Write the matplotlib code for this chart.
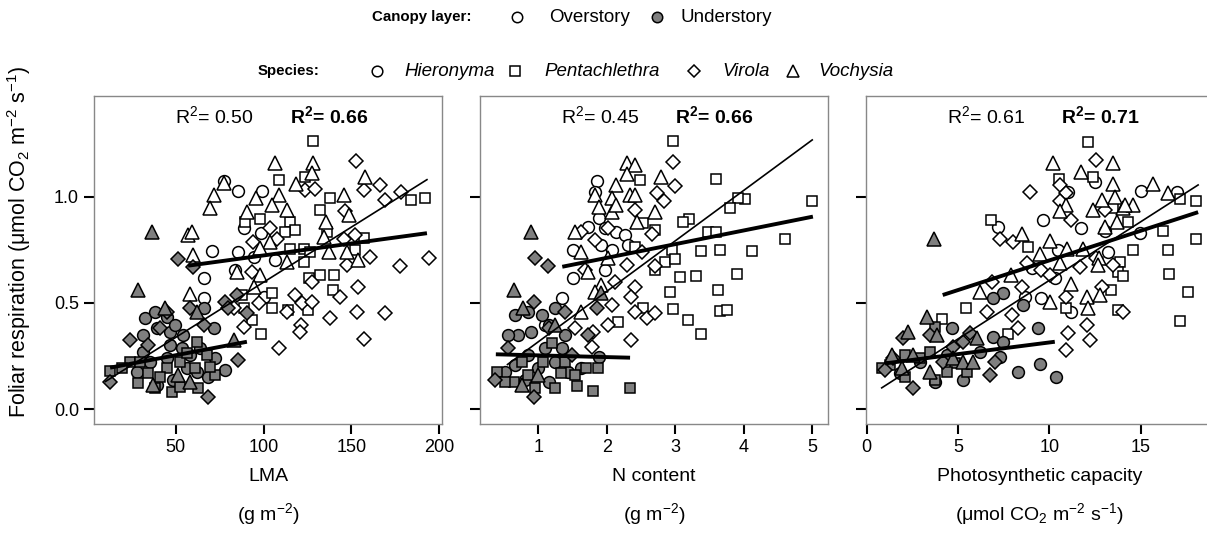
import matplotlib; matplotlib.use("Agg")
import matplotlib.pyplot as plt
from matplotlib.lines import Line2D

plt.rcParams['font.family'] = ['Liberation Sans', 'DejaVu Sans']
plt.rcParams['mathtext.fontset'] = 'custom'
plt.rcParams['mathtext.rm'] = 'Liberation Sans'
plt.rcParams['mathtext.it'] = 'Liberation Sans:italic'
plt.rcParams['mathtext.bf'] = 'Liberation Sans:bold'

# ---- data: (x, respiration) pairs ----
# LMA panel
lma_pent_over = [(128, 1.264), (108.5, 1.079), (123.7, 1.094), (192, 0.995), (184, 0.984), (138, 0.992),
                 (132, 0.937), (98, 0.895), (89.5, 0.882), (115, 0.882), (118, 0.843), (112, 0.835),
                 (136, 0.835), (157, 0.804), (152, 0.749), (115, 0.754), (122.8, 0.754), (126.5, 0.741),
                 (122.8, 0.694), (125.6, 0.619), (132, 0.631), (139.9, 0.631), (139.5, 0.561), (105, 0.545),
                 (104.7, 0.477), (88.6, 0.474), (125, 0.466), (114, 0.466), (93.3, 0.419), (98.6, 0.352),
                 (87.6, 0.537)]
lma_voch_over = [(106.6, 1.157), (128, 1.157), (127.5, 1.11), (118.6, 1.058), (77.2, 1.063), (71.8, 1.008),
                 (69.5, 0.948), (95.6, 0.992), (109, 1.008), (104.7, 0.961), (113.6, 0.937), (90.8, 0.926),
                 (145.6, 1.008), (157.9, 1.094), (135.5, 0.882), (134.2, 0.812), (148.4, 0.914), (57.2, 0.82),
                 (59.1, 0.832), (60, 0.725), (58.2, 0.54), (84.8, 0.647), (97.7, 0.631), (94.3, 0.576),
                 (113.2, 0.694), (137, 0.741), (147.5, 0.741), (154, 0.702), (103.8, 0.788), (98, 0.757)]
lma_hier_over = [(77.2, 1.074), (85.3, 1.027), (99, 1.027), (88.6, 0.851), (98.4, 0.83), (70.5, 0.744),
                 (85.7, 0.741), (94.3, 0.717), (83.8, 0.655), (66.3, 0.616), (65.8, 0.521), (100, 0.529),
                 (106.6, 0.702)]
lma_viro_over = [(152.6, 1.168), (166.5, 1.055), (157, 1.031), (123.7, 1.031), (129.4, 1.036), (169.3, 0.984),
                 (178.2, 1.02), (146.5, 0.933), (103.8, 0.854), (93.7, 0.788), (107.6, 0.8), (152.2, 0.82),
                 (145.6, 0.8), (160.8, 0.717), (177.9, 0.675), (194, 0.71), (147.5, 0.678), (127.5, 0.6),
                 (154, 0.576), (118, 0.537), (143.7, 0.529), (97.1, 0.498), (82.9, 0.474), (113.2, 0.458),
                 (121.8, 0.498), (127.5, 0.502), (153.2, 0.455), (169.3, 0.45), (138, 0.43), (121.2, 0.396),
                 (120.5, 0.361), (156.9, 0.33), (108.5, 0.286), (88.6, 0.388), (93.3, 0.647)]
lma_voch_under = [(36.3, 0.835), (28.7, 0.561), (43.9, 0.474), (58.2, 0.126), (51.5, 0.16), (82.9, 0.325),
                  (62, 0.458), (37.2, 0.113)]
lma_viro_under = [(51.5, 0.707), (60, 0.67), (58.2, 0.474), (78.1, 0.506), (90.5, 0.45), (85.7, 0.231),
                  (24, 0.325), (12.6, 0.129), (68.6, 0.058), (80, 0.474), (84.8, 0.537), (65.8, 0.396),
                  (44.9, 0.458), (41, 0.38), (34.4, 0.302)]
lma_hier_under = [(32.5, 0.427), (38.2, 0.458), (44.9, 0.435), (31.6, 0.349), (39.1, 0.38), (46.8, 0.364),
                  (49.6, 0.396), (54.4, 0.349), (65.8, 0.474), (71.5, 0.38), (72.4, 0.239), (78.1, 0.184),
                  (58.2, 0.254), (44.9, 0.239), (35.4, 0.223), (27.8, 0.176), (39.1, 0.113), (48.7, 0.137),
                  (62, 0.176), (68.6, 0.152), (56.3, 0.192), (46.8, 0.302), (31.6, 0.27), (63.9, 0.286),
                  (53.4, 0.286)]
lma_pent_under = [(62, 0.314), (12.6, 0.179), (24, 0.223), (28.7, 0.121), (34.4, 0.168), (44.9, 0.192),
                  (52.5, 0.223), (56.3, 0.262), (67.6, 0.254), (72.4, 0.16), (62.9, 0.097), (47.7, 0.079),
                  (38.2, 0.097), (41, 0.152), (52.5, 0.105), (61, 0.192), (69.5, 0.199), (29.7, 0.223),
                  (19.2, 0.192)]

# N content panel
n_pent_over = [(2.97, 1.264), (3.6, 1.083), (5.0, 0.98), (4.02, 0.989), (3.92, 0.992), (3.8, 0.945),
               (3.2, 0.895), (3.12, 0.882), (3.48, 0.835), (3.6, 0.835), (4.6, 0.8), (2.7, 0.843),
               (2.53, 0.875), (2.41, 0.765), (2.95, 0.749), (3.38, 0.744), (3.65, 0.749), (4.12, 0.744),
               (2.85, 0.694), (3.0, 0.707), (2.7, 0.655), (3.07, 0.623), (3.31, 0.628), (3.9, 0.634),
               (2.92, 0.55), (3.63, 0.56), (2.53, 0.477), (2.96, 0.471), (3.65, 0.462), (3.75, 0.466),
               (3.19, 0.419), (3.38, 0.352), (2.17, 0.411), (2.48, 1.079)]
n_voch_over = [(2.29, 1.157), (2.41, 1.149), (2.29, 1.105), (2.79, 1.094), (2.14, 1.055), (1.83, 1.008),
               (2.07, 0.992), (2.34, 1.008), (1.88, 0.953), (2.07, 0.929), (2.7, 0.926), (2.44, 0.882),
               (2.41, 1.008), (1.54, 0.835), (2.02, 0.71), (1.63, 0.741), (1.73, 0.644), (1.92, 0.584),
               (1.63, 0.458), (1.83, 0.553), (2.14, 0.961)]
n_hier_over = [(1.85, 1.074), (1.83, 1.024), (1.88, 0.901), (1.73, 0.859), (1.97, 0.851), (2.14, 0.835),
               (2.27, 0.82), (1.51, 0.749), (1.92, 0.772), (2.07, 0.749), (1.51, 0.619), (1.97, 0.655),
               (1.34, 0.521), (1.1, 0.396), (2.31, 0.772)]
n_viro_over = [(2.97, 1.165), (3.0, 1.052), (2.73, 1.016), (2.84, 0.98), (2.41, 0.937), (2.02, 0.851),
               (1.63, 0.835), (1.83, 0.796), (2.66, 0.823), (2.51, 0.741), (2.29, 0.678), (2.7, 0.675),
               (2.41, 0.576), (2.36, 0.529), (1.68, 0.655), (2.12, 0.6), (2.41, 0.455), (2.58, 0.43),
               (2.7, 0.45), (1.8, 0.361), (1.78, 0.294), (2.36, 0.325), (2.02, 0.396), (2.07, 0.49),
               (1.54, 0.38)]
n_voch_under = [(0.89, 0.835), (0.64, 0.561), (0.78, 0.474), (1.92, 0.545), (1.24, 0.396), (1.0, 0.16),
                (0.76, 0.113)]
n_viro_under = [(0.95, 0.71), (1.14, 0.675), (0.93, 0.506), (1.85, 0.474), (0.37, 0.137), (0.93, 0.058),
                (1.39, 0.458), (1.15, 0.38), (0.56, 0.286), (1.49, 0.254), (1.73, 0.349)]
n_hier_under = [(0.66, 0.443), (0.85, 0.458), (1.05, 0.443), (0.71, 0.349), (0.9, 0.364), (1.15, 0.396),
                (1.24, 0.474), (1.39, 0.349), (1.1, 0.286), (0.85, 0.254), (0.66, 0.207), (1.24, 0.223),
                (1.44, 0.176), (1.63, 0.192), (1.88, 0.246), (1.0, 0.192), (0.51, 0.176), (0.81, 0.137),
                (1.15, 0.129), (1.34, 0.286), (0.56, 0.349)]
n_pent_under = [(0.39, 0.176), (0.64, 0.129), (1.07, 0.223), (1.2, 0.309), (1.33, 0.168), (1.56, 0.11),
                (1.69, 0.195), (1.8, 0.085), (2.34, 0.097), (1.87, 0.195), (1.54, 0.16), (0.85, 0.16),
                (0.51, 0.129), (0.95, 0.097), (1.39, 0.223), (1.24, 0.097), (0.76, 0.223)]

# photosynthetic capacity panel
a_pent_over = [(12.13, 1.259), (10.54, 1.083), (12.4, 1.094), (17.18, 0.989), (18.02, 0.98), (6.78, 0.89),
               (8.84, 0.765), (14.32, 0.882), (14.59, 0.749), (16.23, 0.838), (16.5, 0.749), (18.02, 0.801),
               (16.56, 0.634), (17.6, 0.55), (17.14, 0.415), (13.4, 0.56), (13.86, 0.694), (13.77, 0.647),
               (14.04, 0.628), (13.77, 0.466), (10.94, 0.474), (5.41, 0.474), (7.75, 0.352), (13.5, 0.945),
               (4.1, 0.424)]
a_voch_over = [(10.21, 1.157), (13.5, 1.157), (11.76, 1.115), (13.5, 1.058), (15.68, 1.058), (16.5, 1.016),
               (10.94, 0.961), (10.58, 0.933), (12.86, 0.984), (12.4, 0.937), (13.59, 1.0), (14.04, 0.945),
               (14.59, 0.961), (13.68, 0.882), (8.48, 0.823), (10.03, 0.791), (10.98, 0.754), (11.85, 0.754),
               (9.48, 0.729), (10.58, 0.686), (13.04, 0.859), (12.73, 0.71), (12.67, 0.678), (7.88, 0.631),
               (6.2, 0.553), (10.03, 0.502), (11.21, 0.587), (12.04, 0.529), (12.77, 0.537), (12.13, 0.474),
               (14.13, 0.961)]
a_hier_over = [(9.63, 0.89), (7.2, 0.859), (11.76, 0.851), (12.49, 1.071), (11.03, 1.024), (15.04, 1.027),
               (16.99, 1.024), (13.04, 0.838), (14.96, 0.827), (13.22, 0.741), (10.49, 0.749), (10.3, 0.616),
               (8.66, 0.529), (9.57, 0.524), (11.21, 0.458), (9.03, 0.663)]
a_viro_over = [(12.58, 1.173), (8.93, 1.024), (10.61, 1.055), (10.94, 1.016), (10.58, 0.98), (13.04, 0.937),
               (11.21, 0.89), (7.29, 0.801), (8.02, 0.788), (8.75, 0.686), (9.57, 0.655), (10.03, 0.631),
               (11.67, 0.67), (12.58, 0.71), (13.5, 0.678), (12.91, 0.576), (8.48, 0.576), (10.94, 0.529),
               (6.56, 0.458), (7.93, 0.443), (8.3, 0.38), (14.04, 0.458), (12.04, 0.396), (11.03, 0.356),
               (12.22, 0.325), (10.94, 0.278), (6.84, 0.6)]
a_voch_under = [(3.68, 0.801), (3.28, 0.435), (2.28, 0.364), (1.37, 0.254), (3.83, 0.349), (4.74, 0.239),
                (5.29, 0.223), (6.02, 0.333), (5.83, 0.223), (2.55, 0.254), (1.91, 0.192), (3.46, 0.176)]
a_hier_under = [(7.48, 0.545), (6.93, 0.524), (8.57, 0.49), (4.65, 0.38), (6.93, 0.341), (7.48, 0.317),
                (9.39, 0.38), (7.29, 0.246), (8.3, 0.176), (9.48, 0.21), (10.39, 0.152), (5.29, 0.137),
                (3.74, 0.129), (1.82, 0.168), (4.38, 0.254), (6.2, 0.27), (2.92, 0.223)]
a_viro_under = [(2.0, 0.333), (3.46, 0.349), (4.74, 0.294), (5.65, 0.356), (6.75, 0.16), (2.55, 0.097),
                (1.46, 0.239), (4.19, 0.223), (5.29, 0.317), (7.02, 0.223), (1.0, 0.184)]
a_pent_under = [(0.82, 0.192), (2.09, 0.152), (3.74, 0.388), (3.74, 0.137), (4.83, 0.215), (2.92, 0.239),
                (2.09, 0.254), (1.27, 0.207), (5.47, 0.176), (4.38, 0.176), (3.46, 0.27)]

# regression lines: (x0, x1), (y0, y1)
lma_fit_all = [(10, 193), (0.13, 1.08)]
lma_fit_over = [(57, 193), (0.675, 0.828)]
lma_fit_under = [(12.6, 90.5), (0.195, 0.317)]
n_fit_all = [(0.55, 5.0), (0.21, 1.267)]
n_fit_over = [(1.35, 5.01), (0.67, 0.906)]
n_fit_under = [(0.38, 2.34), (0.258, 0.242)]
a_fit_all = [(0.82, 18.15), (0.10, 1.055)]
a_fit_over = [(4.16, 18.15), (0.537, 0.927)]
a_fit_under = [(1.0, 10.3), (0.215, 0.317)]

r2_over = ["0.50", "0.45", "0.61"]
r2_all = ["0.66", "0.66", "0.71"]

SPECIES = ["Hieronyma", "Pentachlethra", "Virola", "Vochysia"]
MARK = {"Hieronyma": ("o", 8.5), "Pentachlethra": ("s", 7.8), "Virola": ("D", 6.8), "Vochysia": ("^", 9.5)}
GRAY = "#7f7f7f"


def scatter(ax, pts, sp, filled):
    m, ms = MARK[sp]
    ax.plot([p[0] for p in pts], [p[1] for p in pts], ls="none", marker=m, ms=ms,
            mfc=GRAY if filled else "white", mec="black", mew=1.1)


def main():
    fig = plt.figure(figsize=(12.07, 5.36), dpi=100)
    panels = [
        dict(pos=0.0781, xlim=(3.6, 201.5), ticks=[50, 100, 150, 200], label="LMA", unit="(g m$^{-2}$)",
             over=[lma_hier_over, lma_pent_over, lma_viro_over, lma_voch_over],
             under=[lma_hier_under, lma_pent_under, lma_viro_under, lma_voch_under],
             fits=(lma_fit_all, lma_fit_over, lma_fit_under)),
        dict(pos=0.3977, xlim=(0.149, 5.225), ticks=[1, 2, 3, 4, 5], label="N content", unit="(g m$^{-2}$)",
             over=[n_hier_over, n_pent_over, n_viro_over, n_voch_over],
             under=[n_hier_under, n_pent_under, n_viro_under, n_voch_under],
             fits=(n_fit_all, n_fit_over, n_fit_under)),
        dict(pos=0.7175, xlim=(-0.04, 19.0), ticks=[0, 5, 10, 15], label="Photosynthetic capacity",
             unit="(μmol CO$_2$ m$^{-2}$ s$^{-1}$)",
             over=[a_hier_over, a_pent_over, a_viro_over, a_voch_over],
             under=[a_hier_under, a_pent_under, a_viro_under, a_voch_under],
             fits=(a_fit_all, a_fit_over, a_fit_under)),
    ]
    for i, p in enumerate(panels):
        ax = fig.add_axes([p["pos"], 0.209, 0.288, 0.612])
        for sp, pts in zip(SPECIES, p["over"]):
            scatter(ax, pts, sp, False)
        for sp, pts in zip(SPECIES, p["under"]):
            scatter(ax, pts, sp, True)
        fa, fo, fu = p["fits"]
        ax.plot(fa[0], fa[1], color="black", lw=1.2)
        ax.plot(fo[0], fo[1], color="black", lw=2.8, solid_capstyle="butt")
        ax.plot(fu[0], fu[1], color="black", lw=2.8, solid_capstyle="butt")
        ax.set_xlim(*p["xlim"]); ax.set_ylim(-0.07, 1.474)
        ax.set_xticks(p["ticks"]); ax.set_yticks([0.0, 0.5, 1.0])
        if i == 0:
            ax.set_yticklabels(["0.0", "0.5", "1.0"])
            ax.set_ylabel("Foliar respiration (μmol CO$_2$ m$^{-2}$ s$^{-1}$)", fontsize=15.5)
            ax.yaxis.set_label_coords(-0.176, 0.555)
        else:
            ax.set_yticklabels([])
        ax.tick_params(direction="out", length=7, width=1.5, labelsize=13, color="black", pad=4)
        for s in ax.spines.values():
            s.set_color("#888888"); s.set_linewidth(1.0)
        ax.text(0.5, -0.16, p["label"], transform=ax.transAxes, ha="center", va="center", fontsize=14)
        ax.text(0.5, -0.275, p["unit"], transform=ax.transAxes, ha="center", va="center", fontsize=14)
        ax.text(0.345, 0.937, r"$\mathrm{R^2}$= " + r2_over[i], transform=ax.transAxes,
                ha="center", va="center", fontsize=14)
        ax.text(0.675, 0.937, r"$\mathbf{R^2}$= " + r2_all[i], transform=ax.transAxes,
                ha="center", va="center", fontsize=14, fontweight="bold")

    W, H = 1207.0, 536.0

    def mk(x, y, m, ms, fc):
        fig.add_artist(Line2D([x / W], [1 - y / H], transform=fig.transFigure, ls="none", marker=m,
                              ms=ms, mfc=fc, mec="black", mew=1.1))

    def tx(x, y, s, **kw):
        fig.text(x / W, 1 - y / H, s, ha="left", va="center", **kw)

    tx(372, 17, "Canopy layer:", fontsize=10.8, fontweight="bold")
    mk(517, 17, "o", 7.5, "white"); tx(549, 17, "Overstory", fontsize=13.5)
    mk(657, 17, "o", 7.5, GRAY); tx(680, 17, "Understory", fontsize=13.5)
    tx(258, 71, "Species:", fontsize=10.8, fontweight="bold")
    xs_m = [377, 515, 694, 793]
    xs_t = [404, 544, 722, 818]
    for sp, xm, xt in zip(SPECIES, xs_m, xs_t):
        m, ms = MARK[sp]
        mk(xm, 71, m, ms * 0.9, "white")
        tx(xt, 71, sp, fontsize=13.5, fontstyle="italic")

    fig.savefig("out.png", dpi=100)


if __name__ == "__main__":
    main()
